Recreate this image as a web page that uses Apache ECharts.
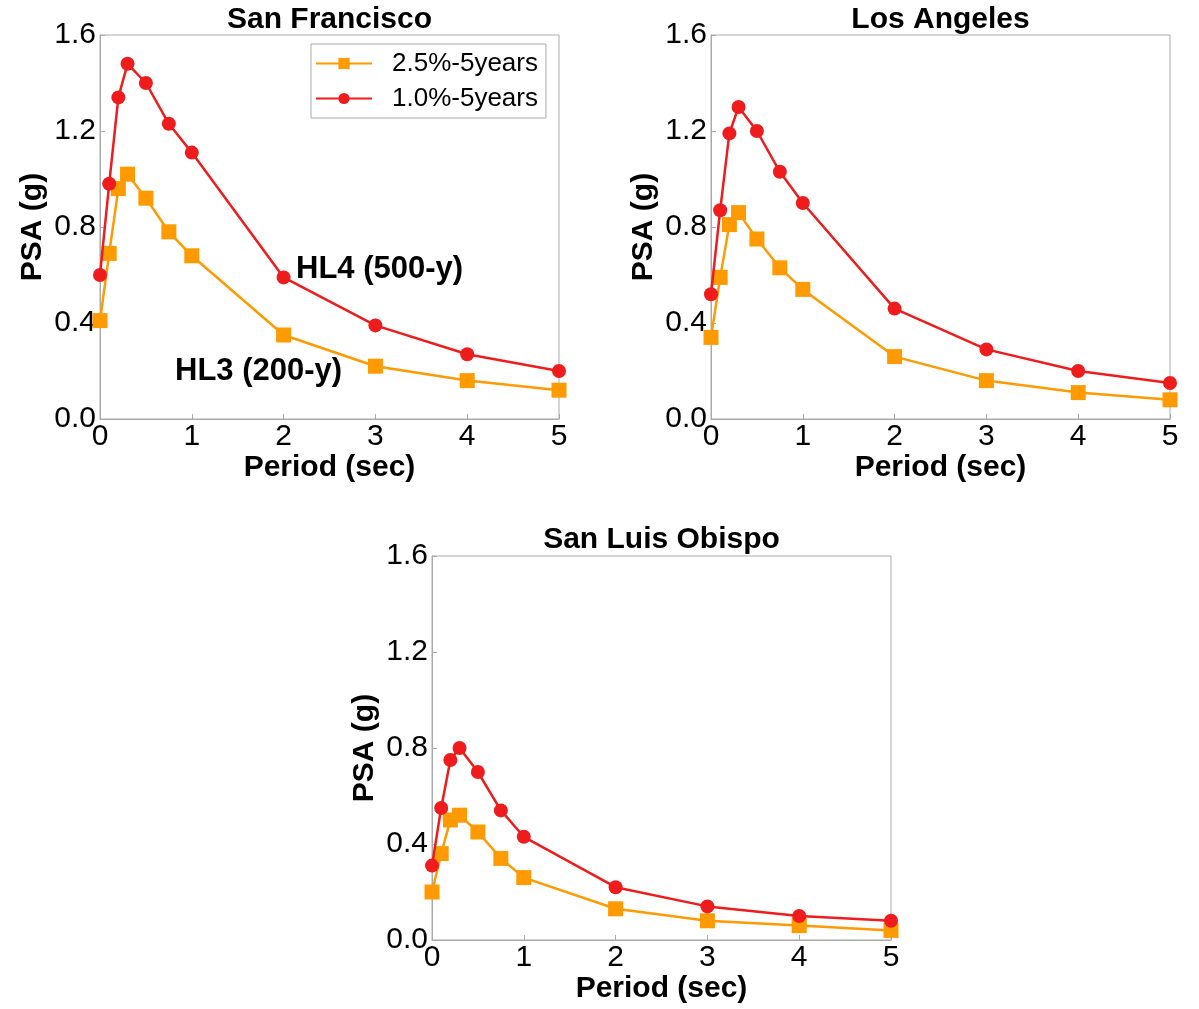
<!DOCTYPE html>
<html>
<head>
<meta charset="utf-8">
<script src="https://cdn.jsdelivr.net/npm/echarts@6/dist/echarts.min.js"></script>
<style>
  html, body { margin: 0; padding: 0; background: #fff; }
  #chart { width: 1199px; height: 1009px; }
</style>
</head>
<body>
<div id="chart"></div>
<script>
// Spectral periods (sec)
const periods = [0, 0.1, 0.2, 0.3, 0.5, 0.75, 1, 2, 3, 4, 5];

// Site names
const sites = ['San Francisco', 'Los Angeles', 'San Luis Obispo'];

// Hazard levels
const hazardNames = ['2.5%-5years', '1.0%-5years'];

// PSA (g) - 2.5% in 5 years (HL3, 200-y)
const sfHL3  = [0.41, 0.69, 0.96, 1.02, 0.92, 0.78, 0.68, 0.35, 0.22, 0.16, 0.12];
const laHL3  = [0.34, 0.59, 0.81, 0.86, 0.75, 0.63, 0.54, 0.26, 0.16, 0.11, 0.08];
const sloHL3 = [0.20, 0.36, 0.50, 0.52, 0.45, 0.34, 0.26, 0.13, 0.08, 0.06, 0.04];

// PSA (g) - 1.0% in 5 years (HL4, 500-y)
const sfHL4  = [0.60, 0.98, 1.34, 1.48, 1.40, 1.23, 1.11, 0.59, 0.39, 0.27, 0.20];
const laHL4  = [0.52, 0.87, 1.19, 1.30, 1.20, 1.03, 0.90, 0.46, 0.29, 0.20, 0.15];
const sloHL4 = [0.31, 0.55, 0.75, 0.80, 0.70, 0.54, 0.43, 0.22, 0.14, 0.10, 0.08];

// Axis ticks
const yTicks = [0, 0.4, 0.8, 1.2, 1.6];
const xTicks = [0, 1, 2, 3, 4, 5];

const hl3Data = [sfHL3, laHL3, sloHL3];
const hl4Data = [sfHL4, laHL4, sloHL4];

const COLOR_HL3 = '#ff9a00';
const COLOR_HL4 = '#ee1c1c';
const FRAME = '#aaaaaa';
const FONT = '"Liberation Sans", Arial, sans-serif';

const panels = [
  { left: 100, top: 35, width: 459, height: 384 },
  { left: 711, top: 35, width: 459, height: 384 },
  { left: 432, top: 556, width: 459, height: 384 }
];

const pairs = (ys) => periods.map((p, i) => [p, ys[i]]);

const grids = panels.map(p => ({
  left: p.left, top: p.top, width: p.width, height: p.height,
  show: true, borderColor: FRAME, borderWidth: 1, backgroundColor: 'transparent'
}));

const xAxes = panels.map((p, i) => ({
  type: 'value', gridIndex: i,
  min: xTicks[0], max: xTicks[xTicks.length - 1], interval: 1,
  name: 'Period (sec)', nameLocation: 'middle', nameGap: 34,
  nameTextStyle: { fontFamily: FONT, fontSize: 30, fontWeight: 'bold', color: '#000' },
  axisLine: { show: true, lineStyle: { color: FRAME, width: 1 } },
  axisTick: { show: true, inside: true, length: 5, lineStyle: { color: FRAME } },
  axisLabel: { fontFamily: FONT, fontSize: 30, color: '#000', margin: 3 },
  splitLine: { show: false }
}));

const yAxes = panels.map((p, i) => ({
  type: 'value', gridIndex: i,
  min: yTicks[0], max: yTicks[yTicks.length - 1], interval: 0.4,
  name: 'PSA (g)', nameLocation: 'middle', nameGap: 52,
  nameTextStyle: { fontFamily: FONT, fontSize: 30, fontWeight: 'bold', color: '#000' },
  axisLine: { show: true, lineStyle: { color: FRAME, width: 1 } },
  axisTick: { show: true, inside: true, length: 5, lineStyle: { color: FRAME } },
  axisLabel: { fontFamily: FONT, fontSize: 30, color: '#000', margin: 4,
               formatter: v => v.toFixed(1) },
  splitLine: { show: false }
}));

const titles = panels.map((p, i) => ({
  text: sites[i],
  left: p.left + p.width / 2,
  top: i < 2 ? 5 : 525,
  textAlign: 'center',
  padding: 0,
  textStyle: { fontFamily: FONT, fontSize: 30, fontWeight: 'bold', color: '#000' }
}));

const series = [];
panels.forEach((p, i) => {
  series.push({
    name: hazardNames[0], type: 'line', xAxisIndex: i, yAxisIndex: i,
    data: pairs(hl3Data[i]),
    symbol: 'rect', symbolSize: 15,
    lineStyle: { color: COLOR_HL3, width: 2.5 },
    itemStyle: { color: COLOR_HL3 },
    clip: true, z: 2
  });
  series.push({
    name: hazardNames[1], type: 'line', xAxisIndex: i, yAxisIndex: i,
    data: pairs(hl4Data[i]),
    symbol: 'circle', symbolSize: 14,
    lineStyle: { color: COLOR_HL4, width: 2.5 },
    itemStyle: { color: COLOR_HL4 },
    clip: true, z: 3
  });
});

const option = {
  backgroundColor: '#fff',
  animation: false,
  title: titles,
  grid: grids,
  xAxis: xAxes,
  yAxis: yAxes,
  legend: {
    data: hazardNames,
    orient: 'vertical',
    left: 311, top: 44,
    padding: [6, 8, 6, 4],
    itemWidth: 56, itemHeight: 14, itemGap: 8,
    borderColor: FRAME, borderWidth: 1, borderRadius: 0,
    backgroundColor: '#fff',
    textStyle: { fontFamily: FONT, fontSize: 26, color: '#000', lineHeight: 27,
                 padding: [0, 0, 0, 15] }
  },
  graphic: [
    { type: 'text', left: 296, top: 254,
      style: { text: 'HL4 (500-y)', font: 'bold 31px ' + FONT, fill: '#000' } },
    { type: 'text', left: 175, top: 356,
      style: { text: 'HL3 (200-y)', font: 'bold 31px ' + FONT, fill: '#000' } }
  ],
  series: series
};

const chart = echarts.init(document.getElementById('chart'), null, { renderer: 'canvas' });
chart.setOption(option);
</script>
</body>
</html>
